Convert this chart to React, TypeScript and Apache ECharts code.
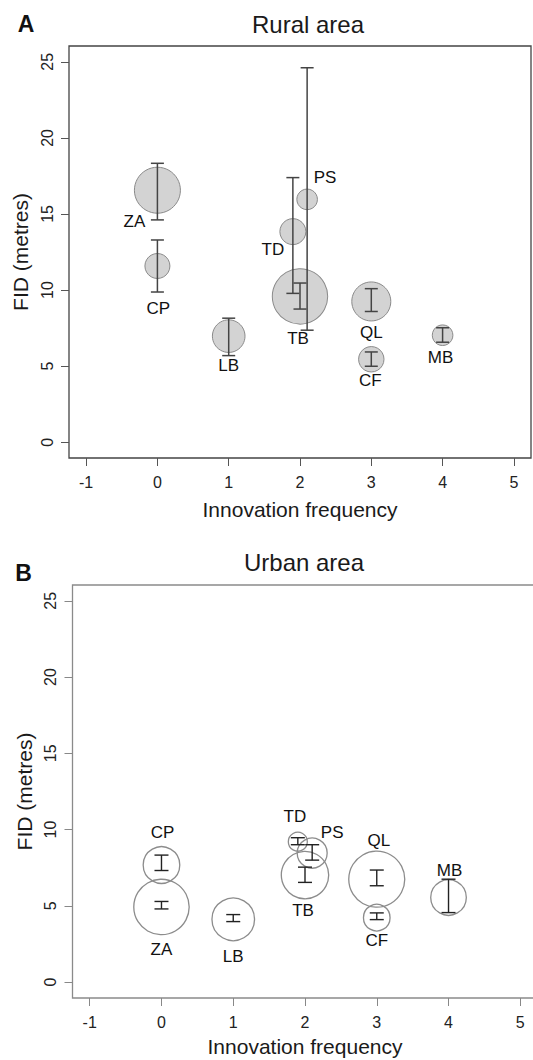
import React, { useEffect, useRef } from "react";
import * as echarts from "echarts";

// ---- data ----
const species = ["ZA", "CP", "LB", "TD", "TB", "PS", "QL", "CF", "MB"];
const innovationFrequency = [0, 0, 1, 2, 2, 2, 3, 3, 4];
// horizontal display jitter used in the original figure for overlapping species
const xJitter = [0, 0, 0, -0.1, 0, 0.1, 0, 0, 0];

const ruralFID = [16.56, 11.58, 6.97, 13.84, 9.58, 15.96, 9.25, 5.45, 7.03];
const ruralLow = [14.61, 9.87, 5.69, 9.78, 8.75, 7.36, 8.59, 4.99, 6.57];
const ruralHigh = [18.33, 13.29, 8.15, 17.39, 10.46, 24.61, 10.09, 5.93, 7.52];
const ruralBubble = [2.3, 1.25, 1.63, 1.3, 2.77, 1.03, 1.95, 1.27, 1.03];

const urbanFID = [4.93, 7.68, 4.12, 9.21, 7.02, 8.46, 6.75, 4.23, 5.55];
const urbanLow = [4.8, 7.32, 3.97, 9.01, 6.54, 8.0, 6.32, 4.1, 4.56];
const urbanHigh = [5.29, 8.33, 4.43, 9.47, 7.54, 9.01, 7.35, 4.54, 6.75];
const urbanBubble = [2.77, 1.83, 2.13, 0.95, 2.37, 1.5, 2.8, 1.33, 1.78];

const xTicks = [-1, 0, 1, 2, 3, 4, 5];
const yTicks = [0, 5, 10, 15, 20, 25];

// ---- styling ----
const FONT = "'Liberation Sans', Arial, Helvetica, sans-serif";
const BUBBLE_SCALE = 10; // px radius per bubble unit
const ruralLabelOffset = [[-23, 31], [1, 43], [0, 29], [-20, 18], [-2, 42], [18, -22], [0, 31], [-1, 21], [-2, 22]];
const urbanLabelOffset = [[0, 43], [1, -33], [0, 37], [-3, -25], [-2, 35], [20, -21], [2, -39], [0, 23], [1, -27]];

function xPos(i: number) {
  return innovationFrequency[i] + xJitter[i];
}

function errorRender(color: string, lw: number, hw: number) {
  return (params: any, api: any) => {
    const x = api.value(0);
    const lo = api.coord([x, api.value(1)]);
    const hi = api.coord([x, api.value(2)]);
    const style = { stroke: color, lineWidth: lw };
    return {
      type: "group",
      children: [
        { type: "line", shape: { x1: lo[0], y1: lo[1], x2: hi[0], y2: hi[1] }, style },
        { type: "line", shape: { x1: lo[0] - hw, y1: lo[1], x2: lo[0] + hw, y2: lo[1] }, style },
        { type: "line", shape: { x1: hi[0] - hw, y1: hi[1], x2: hi[0] + hw, y2: hi[1] }, style },
      ],
    };
  };
}

function makeAxes(idx: number, axisColor: string, xNameGap: number, yNameGap: number) {
  const x = {
    type: "value",
    gridIndex: idx,
    min: -1.24,
    max: 5.24,
    axisLine: { show: false, onZero: false },
    axisTick: { show: true, customValues: xTicks, length: 8, lineStyle: { color: axisColor, width: 1 } },
    axisLabel: { customValues: xTicks, fontSize: 16, margin: 16, color: "#222", fontFamily: FONT },
    splitLine: { show: false },
    name: "Innovation frequency",
    nameLocation: "middle",
    nameGap: xNameGap,
    nameTextStyle: { fontSize: 21, color: "#1a1a1a", fontFamily: FONT },
  };
  const y = {
    type: "value",
    gridIndex: idx,
    min: -1.04,
    max: 26.04,
    axisLine: { show: false, onZero: false },
    axisTick: { show: true, customValues: yTicks, length: 8, lineStyle: { color: axisColor, width: 1 } },
    axisLabel: { customValues: yTicks, fontSize: 16, margin: 14, rotate: 90, color: "#222", fontFamily: FONT },
    splitLine: { show: false },
    name: "FID (metres)",
    nameLocation: "middle",
    nameGap: yNameGap,
    nameTextStyle: { fontSize: 21, color: "#1a1a1a", fontFamily: FONT },
  };
  return { x, y };
}

export default function App() {
  const ref = useRef<HTMLDivElement>(null);
  useEffect(() => {
    if (!ref.current) return;
    const chart = echarts.init(ref.current, null, { renderer: "svg" });

    const a0 = makeAxes(0, "#555", 41, 34);
    const a1 = makeAxes(1, "#888", 38, 36);

    const ruralScatter = species.map((s, i) => ({
      name: s,
      value: [xPos(i), ruralFID[i]],
      symbolSize: ruralBubble[i] * BUBBLE_SCALE * 2,
      label: { offset: ruralLabelOffset[i] },
    }));
    const urbanScatter = species.map((s, i) => ({
      name: s,
      value: [xPos(i), urbanFID[i]],
      symbolSize: urbanBubble[i] * BUBBLE_SCALE * 2,
      label: { offset: urbanLabelOffset[i] },
    }));
    const ruralErr = species.map((s, i) => [xPos(i), ruralLow[i], ruralHigh[i]]);
    const urbanErr = species.map((s, i) => [xPos(i), urbanLow[i], urbanHigh[i]]);

    const labelStyle = {
      show: true,
      position: "inside",
      formatter: "{b}",
      fontSize: 17,
      color: "#111",
      fontFamily: FONT,
    };

    chart.setOption({
      animation: false,
      backgroundColor: "#fff",
      textStyle: { fontFamily: FONT },
      grid: [
        { left: 69, top: 46, width: 462, height: 412, show: true, borderColor: "#444", borderWidth: 1.3, backgroundColor: "transparent", outerBoundsMode: "none", containLabel: false },
        { left: 72.5, top: 585, width: 465, height: 413, show: true, borderColor: "#8a8a8a", borderWidth: 1.3, backgroundColor: "transparent", outerBoundsMode: "none", containLabel: false },
      ],
      xAxis: [a0.x, a1.x],
      yAxis: [a0.y, a1.y],
      graphic: [
        { type: "text", x: 26, y: 24, style: { text: "A", font: `bold 23px ${FONT}`, fill: "#111", textAlign: "center", textVerticalAlign: "middle" } },
        { type: "text", x: 308, y: 24, style: { text: "Rural area", font: `24px ${FONT}`, fill: "#1a1a1a", textAlign: "center", textVerticalAlign: "middle" } },
        { type: "text", x: 23.5, y: 573, style: { text: "B", font: `bold 23px ${FONT}`, fill: "#111", textAlign: "center", textVerticalAlign: "middle" } },
        { type: "text", x: 304, y: 562, style: { text: "Urban area", font: `24px ${FONT}`, fill: "#1a1a1a", textAlign: "center", textVerticalAlign: "middle" } },
      ],
      series: [
        {
          type: "scatter",
          xAxisIndex: 0,
          yAxisIndex: 0,
          symbol: "circle",
          data: ruralScatter,
          itemStyle: { color: "#d3d3d3", borderColor: "#8a8a8a", borderWidth: 1, opacity: 1 },
          label: labelStyle,
          z: 2,
          silent: true,
        },
        {
          type: "custom",
          xAxisIndex: 0,
          yAxisIndex: 0,
          renderItem: errorRender("#444", 1.5, 6.5),
          encode: { x: 0, y: [1, 2] },
          data: ruralErr,
          z: 3,
          silent: true,
        },
        {
          type: "scatter",
          xAxisIndex: 1,
          yAxisIndex: 1,
          symbol: "circle",
          data: urbanScatter,
          itemStyle: { color: "rgba(0,0,0,0)", borderColor: "#8c8c8c", borderWidth: 1.3, opacity: 1 },
          label: labelStyle,
          z: 2,
          silent: true,
        },
        {
          type: "custom",
          xAxisIndex: 1,
          yAxisIndex: 1,
          renderItem: errorRender("#222", 1.4, 7),
          encode: { x: 0, y: [1, 2] },
          data: urbanErr,
          z: 3,
          silent: true,
        },
      ],
    });
    return () => chart.dispose();
  }, []);
  return (
    <div
      ref={ref}
      style={{ position: "absolute", left: 0, top: 0, width: 533, height: 1060, background: "#fff" }}
    />
  );
}
